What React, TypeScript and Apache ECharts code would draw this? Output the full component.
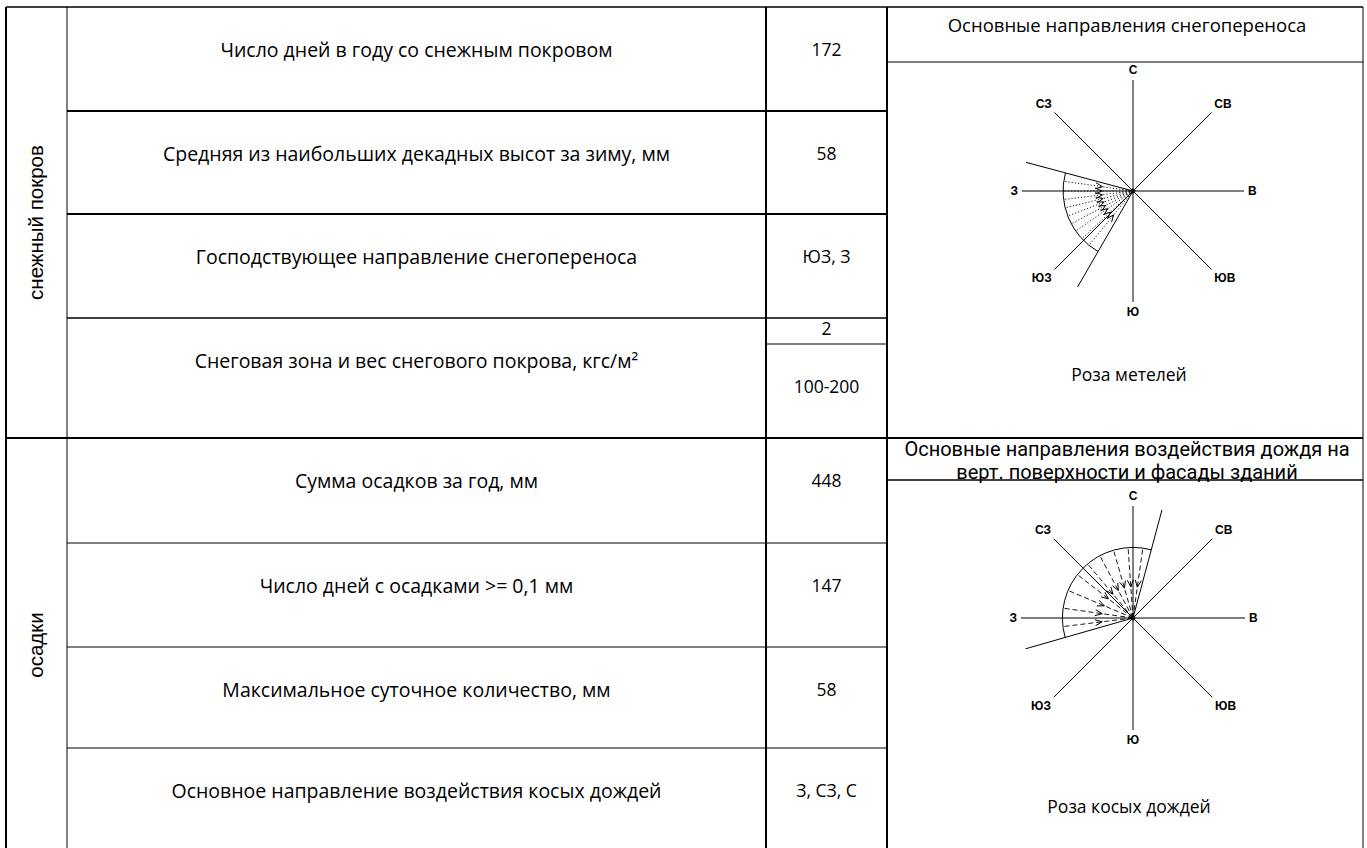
import React, { useEffect, useRef } from 'react';
import * as echarts from 'echarts';

// ---- data ----
const sectionLabels = ['снежный покров', 'осадки'];
const snowParams = [
  'Число дней в году со снежным покровом',
  'Средняя из наибольших декадных высот за зиму, мм',
  'Господствующее направление снегопереноса',
  'Снеговая зона и вес снегового покрова, кгс/м²',
];
const snowValues = ['172', '58', 'ЮЗ, З'];
const snowZone = '2';
const snowWeight = '100-200';
const rainParams = [
  'Сумма осадков за год, мм',
  'Число дней с осадками >= 0,1 мм',
  'Максимальное суточное количество, мм',
  'Основное направление воздействия косых дождей',
];
const rainValues = ['448', '147', '58', 'З, СЗ, С'];
const snowRoseTitle = 'Основные направления снегопереноса';
const rainRoseTitle = ['Основные направления воздействия дождя на', 'верт. поверхности и фасады зданий'];
const roseCaptions = ['Роза метелей', 'Роза косых дождей'];
const directionLabels = ['С', 'СВ', 'В', 'ЮВ', 'Ю', 'ЮЗ', 'З', 'СЗ'];
const directionStep = 45;
// sectors in compass degrees (from, to clockwise)
const snowSector = [210, 285];
const snowRays = [278, 270, 263, 256, 249, 242, 235, 227, 219];
const rainSector = [254, 15];
const rainRays = [263, 278, 293, 308, 320, 332, 344, 356, 8];
const sectorRadius = 0.63; // share of rose radius

// ---- layout ----
const COL_X = [6, 67, 766, 887, 1363];
const SNOW_Y = [7, 111, 214, 318, 438];
const RAIN_Y = [438, 543, 647, 748, 852];
const ZONE_SPLIT_Y = 344;
const SNOW_TITLE_Y = 62;
const RAIN_TITLE_Y = 480;
const TEXT_OFFSET = 42;
const PARAM_FONT = '19.5px "Open Sans"';
const VALUE_FONT = '17.5px "Open Sans"';
const TITLE_FONT = '18.5px "Open Sans"';
const RAIN_TITLE_FONT = '20px Roboto';
const CAPTION_FONT = '17.5px "Open Sans"';
const LABEL_FONT = '20.5px "Liberation Sans"';

function hline(x1: number, x2: number, y: number, w: number) {
  return { type: 'line', silent: true, shape: { x1, y1: y, x2, y2: y }, style: { stroke: '#000', lineWidth: w } };
}
function vline(x: number, y1: number, y2: number, w: number) {
  return { type: 'line', silent: true, shape: { x1: x, y1, x2: x, y2 }, style: { stroke: '#000', lineWidth: w } };
}
function txt(x: number, y: number, text: string, font: string, rotation = 0) {
  return {
    type: 'text',
    silent: true,
    x,
    y,
    rotation,
    style: {
      text,
      x: 0,
      y: 0,
      font,
      fill: '#000',
      align: 'center',
      verticalAlign: 'middle',
      textAlign: 'center',
      textVerticalAlign: 'middle',
    },
  };
}

function roseSeries(polarIndex: number, sector: number[], rays: number[], dash: number[]) {
  const arcSeries = {
    type: 'custom',
    coordinateSystem: 'polar',
    polarIndex,
    encode: { radius: 0, angle: 1 },
    data: [[sectorRadius, sector[0], sector[1]]],
    renderItem: (params: any, api: any) => {
      const c = api.coord([0, 0]);
      const p = api.coord([api.value(0), api.value(1)]);
      const r = Math.hypot(p[0] - c[0], p[1] - c[1]);
      const a1 = api.value(1);
      let a2 = api.value(2);
      if (a2 < a1) a2 += 360;
      return {
        type: 'arc',
        shape: {
          cx: c[0],
          cy: c[1],
          r,
          startAngle: ((a1 - 90) * Math.PI) / 180,
          endAngle: ((a2 - 90) * Math.PI) / 180,
          clockwise: true,
        },
        style: { stroke: '#000', fill: null, lineWidth: 1 },
      };
    },
  };
  const raySeries = {
    type: 'custom',
    coordinateSystem: 'polar',
    polarIndex,
    encode: { radius: 0, angle: 1 },
    data: rays.map((a) => [sectorRadius, a]),
    renderItem: (params: any, api: any) => {
      const c = api.coord([0, 0]);
      const p = api.coord([api.value(0), api.value(1)]);
      const dx = p[0] - c[0];
      const dy = p[1] - c[1];
      const L = Math.hypot(dx, dy);
      const ux = dx / L;
      const uy = dy / L;
      const tipR = L * 0.44;
      const back = tipR + 7;
      const tip = [c[0] + ux * tipR, c[1] + uy * tipR];
      const w1 = [c[0] + ux * back - uy * 3, c[1] + uy * back + ux * 3];
      const w2 = [c[0] + ux * back + uy * 3, c[1] + uy * back - ux * 3];
      return {
        type: 'group',
        children: [
          {
            type: 'line',
            shape: { x1: c[0], y1: c[1], x2: p[0], y2: p[1] },
            style: { stroke: '#000', lineWidth: 0.9, lineDash: dash },
          },
          {
            type: 'polyline',
            shape: { points: [w1, tip, w2] },
            style: { stroke: '#000', fill: null, lineWidth: 1 },
          },
        ],
      };
    },
  };
  const boundary = {
    type: 'line',
    coordinateSystem: 'polar',
    polarIndex,
    symbol: 'none',
    lineStyle: { color: '#000', width: 1 },
    data: [
      [1, sector[1]],
      [0, sector[1]],
      [1, sector[0]],
    ],
  };
  const dot = {
    type: 'scatter',
    coordinateSystem: 'polar',
    polarIndex,
    symbolSize: 5,
    itemStyle: { color: '#000' },
    data: [[0, 0]],
  };
  return [arcSeries, raySeries, boundary, dot];
}

function angleAxis(polarIndex: number) {
  return {
    polarIndex,
    type: 'value',
    min: 0,
    max: 360,
    interval: directionStep,
    startAngle: 90,
    clockwise: true,
    axisLine: { show: false },
    axisTick: { show: false },
    splitLine: { show: true, lineStyle: { color: '#000', width: 1 } },
    axisLabel: {
      margin: 4,
      color: '#000',
      fontSize: 12,
      fontWeight: 'bold',
      fontFamily: '"Liberation Sans", Arial',
      formatter: (v: number) => (v >= 360 ? '' : directionLabels[Math.round(v / directionStep)]),
    },
  };
}

export default function App() {
  const ref = useRef<HTMLDivElement>(null);
  useEffect(() => {
    if (!ref.current) return;
    const chart = echarts.init(ref.current, null, { renderer: 'svg' });
    const [x0, x1, x2, x3, x4] = COL_X;
    const xMid = (x1 + x2) / 2;
    const xVal = (x2 + x3) / 2;
    const xRight = (x3 + x4) / 2;
    const g: any[] = [];
    // grid lines
    g.push(hline(x0, x4, SNOW_Y[0], 1.5));
    g.push(vline(x0, SNOW_Y[0], RAIN_Y[4], 2));
    g.push(vline(x1, SNOW_Y[0], RAIN_Y[4], 1));
    g.push(vline(x2, SNOW_Y[0], RAIN_Y[4], 2));
    g.push(vline(x3, SNOW_Y[0], RAIN_Y[4], 2));
    g.push(vline(x4, SNOW_Y[0], RAIN_Y[4], 1));
    g.push(hline(x1, x3, SNOW_Y[1], 2));
    g.push(hline(x1, x3, SNOW_Y[2], 2));
    g.push(hline(x1, x3, SNOW_Y[3], 1.5));
    g.push(hline(x2, x3, ZONE_SPLIT_Y, 1));
    g.push(hline(x0, x4, SNOW_Y[4], 2));
    g.push(hline(x1, x3, RAIN_Y[1], 1));
    g.push(hline(x1, x3, RAIN_Y[2], 1));
    g.push(hline(x1, x3, RAIN_Y[3], 1));
    g.push(hline(x3, x4, SNOW_TITLE_Y, 1));
    g.push(hline(x3, x4, RAIN_TITLE_Y, 1.5));
    // section labels
    g.push(txt((x0 + x1) / 2 - 1, (SNOW_Y[0] + SNOW_Y[4]) / 2, sectionLabels[0], LABEL_FONT, Math.PI / 2));
    g.push(txt((x0 + x1) / 2 - 1, (RAIN_Y[0] + RAIN_Y[4]) / 2, sectionLabels[1], LABEL_FONT, Math.PI / 2));
    // snow rows
    snowParams.forEach((p, i) => g.push(txt(xMid, SNOW_Y[i] + TEXT_OFFSET, p, PARAM_FONT)));
    snowValues.forEach((v, i) => g.push(txt(xVal, SNOW_Y[i] + TEXT_OFFSET, v, VALUE_FONT)));
    g.push(txt(xVal, (SNOW_Y[3] + ZONE_SPLIT_Y) / 2 - 3, snowZone, VALUE_FONT));
    g.push(txt(xVal, ZONE_SPLIT_Y + TEXT_OFFSET, snowWeight, VALUE_FONT));
    // rain rows
    rainParams.forEach((p, i) => g.push(txt(xMid, RAIN_Y[i] + TEXT_OFFSET, p, PARAM_FONT)));
    rainValues.forEach((v, i) => g.push(txt(xVal, RAIN_Y[i] + TEXT_OFFSET, v, VALUE_FONT)));
    // right column
    g.push(txt(xRight + 2, SNOW_Y[0] + 17, snowRoseTitle, TITLE_FONT));
    g.push(txt(xRight + 2, RAIN_Y[0] + 11, rainRoseTitle[0], RAIN_TITLE_FONT));
    g.push(txt(xRight + 2, RAIN_Y[0] + 34, rainRoseTitle[1], RAIN_TITLE_FONT));
    g.push(txt(xRight + 4, 374, roseCaptions[0], CAPTION_FONT));
    g.push(txt(xRight + 4, 806, roseCaptions[1], CAPTION_FONT));

    chart.setOption({
      animation: false,
      backgroundColor: '#fff',
      polar: [
        { center: [1133, 191], radius: 111 },
        { center: [1133, 618], radius: 112 },
      ],
      angleAxis: [angleAxis(0), angleAxis(1)],
      radiusAxis: [
        { polarIndex: 0, type: 'value', min: 0, max: 1, show: false, splitLine: { show: false } },
        { polarIndex: 1, type: 'value', min: 0, max: 1, show: false, splitLine: { show: false } },
      ],
      series: [
        ...roseSeries(0, snowSector, snowRays, [1.2, 2]),
        ...roseSeries(1, rainSector, rainRays, [5, 3]),
      ],
      graphic: g,
    });
    return () => chart.dispose();
  }, []);
  return (
    <div
      ref={ref}
      style={{ position: 'fixed', left: 0, top: 0, width: 1367, height: 848, background: '#fff' }}
    />
  );
}
